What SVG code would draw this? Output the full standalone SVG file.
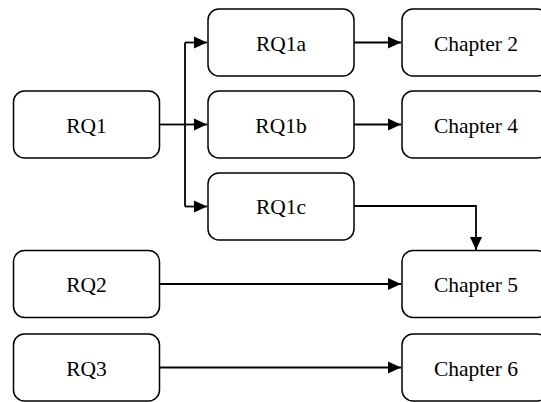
<svg xmlns="http://www.w3.org/2000/svg" width="541" height="402" viewBox="0 0 541 402">
<style>
.box{fill:#fff;stroke:#000;stroke-width:1.5}
.lbl{font-size:21.5px;fill:#000;text-anchor:middle}
.edge{fill:none;stroke:#000;stroke-width:1.8}
</style>
<defs>
<marker id="arr" markerWidth="13" markerHeight="13" refX="13" refY="6.5" orient="auto" markerUnits="userSpaceOnUse">
<path d="M0,0.5 L13,6.5 L0,12.5 Z" fill="#000"/>
</marker>
</defs>
<rect width="541" height="402" fill="#fff"/>
<g id="connectors">
<path class="edge" d="M159.5,124.5 H185"/>
<path class="edge" d="M185,42.5 V206.5"/>
<path class="edge" d="M185,42.5 H207" marker-end="url(#arr)"/>
<path class="edge" d="M185,124.5 H207" marker-end="url(#arr)"/>
<path class="edge" d="M185,206.5 H207" marker-end="url(#arr)"/>
<path class="edge" d="M354,42.5 H401" marker-end="url(#arr)"/>
<path class="edge" d="M354,124.5 H401" marker-end="url(#arr)"/>
<path class="edge" d="M354,206 H476 V250" marker-end="url(#arr)"/>
<path class="edge" d="M159.5,284 H401" marker-end="url(#arr)"/>
<path class="edge" d="M159.5,367.5 H401" marker-end="url(#arr)"/>
</g>
<g font-family="Liberation Serif, Times New Roman, serif">
<g id="RQ1"><rect class="box" x="13.5" y="91" width="146" height="67" rx="11"/><text class="lbl" x="86.5" y="132.5">RQ1</text></g>
<g id="RQ1a"><rect class="box" x="208" y="9" width="146" height="67" rx="11"/><text class="lbl" x="281" y="50.5">RQ1a</text></g>
<g id="RQ1b"><rect class="box" x="208" y="91" width="146" height="67" rx="11"/><text class="lbl" x="281" y="132.5">RQ1b</text></g>
<g id="RQ1c"><rect class="box" x="208" y="173" width="146" height="67" rx="11"/><text class="lbl" x="281" y="214">RQ1c</text></g>
<g id="RQ2"><rect class="box" x="13.5" y="250.5" width="146" height="67" rx="11"/><text class="lbl" x="86.5" y="292">RQ2</text></g>
<g id="RQ3"><rect class="box" x="13.5" y="334" width="146" height="67" rx="11"/><text class="lbl" x="86.5" y="375.5">RQ3</text></g>
<g id="Chapter2"><rect class="box" x="402" y="9" width="146" height="67" rx="11"/><text class="lbl" x="476" y="50.5">Chapter 2</text></g>
<g id="Chapter4"><rect class="box" x="402" y="91" width="146" height="67" rx="11"/><text class="lbl" x="476" y="132.5">Chapter 4</text></g>
<g id="Chapter5"><rect class="box" x="402" y="250.5" width="146" height="67" rx="11"/><text class="lbl" x="476" y="292">Chapter 5</text></g>
<g id="Chapter6"><rect class="box" x="402" y="334" width="146" height="67" rx="11"/><text class="lbl" x="476" y="375.5">Chapter 6</text></g>
</g>
</svg>
